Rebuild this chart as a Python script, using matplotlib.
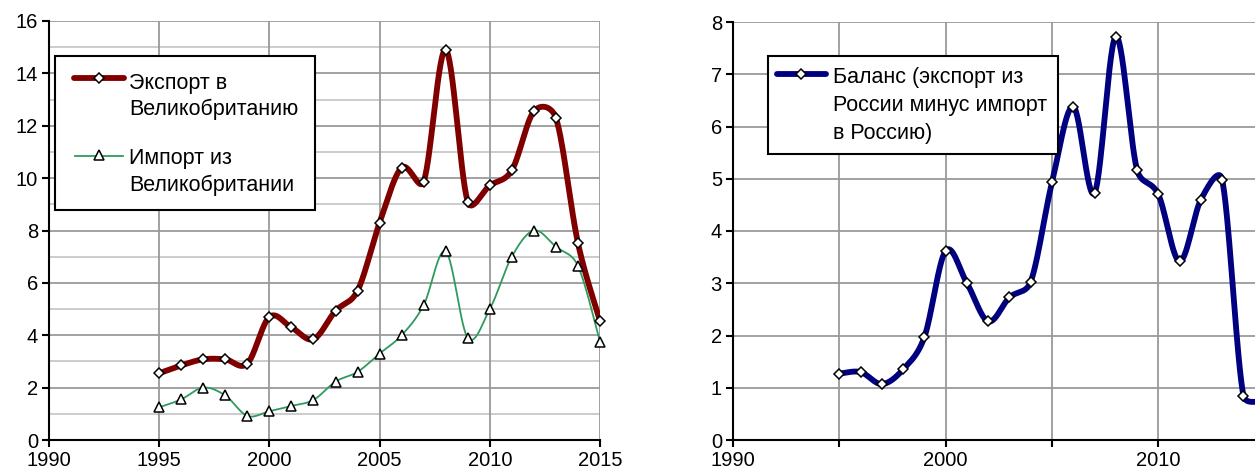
import numpy as np
import matplotlib
matplotlib.use("Agg")
import matplotlib.pyplot as plt
from matplotlib.lines import Line2D
from matplotlib.patches import Rectangle
from matplotlib.ticker import MultipleLocator, FixedLocator

plt.rcParams['font.family'] = ['Liberation Sans', 'DejaVu Sans']

years = list(range(1995, 2016))
export_uk = [2.55, 2.85, 3.08, 3.08, 2.92, 4.70, 4.30, 3.85, 4.93, 5.70, 8.30,
             10.40, 9.87, 14.90, 9.10, 9.72, 10.30, 12.55, 12.30, 7.52, 4.55]
import_uk = [1.25, 1.55, 2.00, 1.70, 0.92, 1.10, 1.30, 1.53, 2.23, 2.60, 3.30,
             4.00, 5.15, 7.20, 3.90, 5.00, 7.00, 8.00, 7.38, 6.65, 3.75]
balance = [1.27, 1.30, 1.07, 1.35, 1.97, 3.62, 3.00, 2.27, 2.73, 3.03, 4.93,
           6.38, 4.73, 7.72, 5.17, 4.70, 3.42, 4.60, 4.98, 0.85, 0.75]

label_export = ["Экспорт в", "Великобританию"]
label_import = ["Импорт из", "Великобритании"]
label_balance = ["Баланс (экспорт из", "России минус импорт", "в Россию)"]

W, H = 1255, 474


def smooth(x, y, sx, sy, n=30):
    """Excel-style smoothed Bezier path through the points (computed in pixel space)."""
    P = np.column_stack([np.asarray(x, float) * sx, np.asarray(y, float) * sy])
    P = np.vstack([P[0], P, P[-1]])
    out = []
    t = np.linspace(0, 1, n, endpoint=False)[:, None]
    for i in range(1, len(P) - 2):
        p0, p1, p2, p3 = P[i - 1], P[i], P[i + 1], P[i + 2]
        d12 = np.hypot(*(p2 - p1))
        v1 = (p2 - p0) / 6.0
        v2 = (p3 - p1) / 6.0
        l1, l2 = np.hypot(*v1), np.hypot(*v2)
        if l1 > d12 / 2 and l1 > 0:
            v1 = v1 * (d12 / 2) / l1
        if l2 > d12 / 2 and l2 > 0:
            v2 = v2 * (d12 / 2) / l2
        c1 = p1 + v1
        c2 = p2 - v2
        b = ((1 - t) ** 3) * p1 + 3 * ((1 - t) ** 2) * t * c1 + 3 * (1 - t) * t ** 2 * c2 + t ** 3 * p2
        out.append(b)
    out.append(P[-2][None])
    S = np.vstack(out)
    return S[:, 0] / sx, S[:, 1] / sy


def fx(px):
    return px / W


def fy(py):
    return 1 - py / H


FS = 14.5
LFS = 15.5
fig = plt.figure(figsize=(12.55, 4.74), dpi=100)

# ---------------- left chart ----------------
L = dict(x0=49, x1=600, y0=440, y1=21)
ax1 = fig.add_axes([fx(L['x0']), fy(L['y0']), (L['x1'] - L['x0']) / W, (L['y0'] - L['y1']) / H])
ax1.set_xlim(1990, 2015)
ax1.set_ylim(0, 16)
for v in range(1, 16, 2):
    ax1.axhline(v, color='#c8c8c8', lw=1.3, zorder=0)
for v in range(2, 17, 2):
    ax1.axhline(v, color='#9a9a9a', lw=1.3, zorder=0)
for v in range(1995, 2016, 5):
    ax1.axvline(v, color='#9a9a9a', lw=1.3, zorder=0)

pxx = (L['x1'] - L['x0']) / 25.0
pxy = (L['y0'] - L['y1']) / 16.0
sx_, sy_ = smooth(years, export_uk, pxx, pxy)
ax1.plot(sx_, sy_, color='#800000', lw=4.2, solid_capstyle='round', zorder=3)
ax1.plot(years, export_uk, ls='none', marker='D', ms=5, mfc='white', mec='black', mew=1.1, zorder=4, clip_on=False)
sx_, sy_ = smooth(years, import_uk, pxx, pxy)
ax1.plot(sx_, sy_, color='#2e9a5e', lw=1.3, zorder=3)
ax1.plot(years, import_uk, ls='none', marker='^', ms=7, mfc='white', mec='black', mew=1.1, zorder=4, clip_on=False)

ax1.xaxis.set_major_locator(MultipleLocator(5))
ax1.yaxis.set_major_locator(MultipleLocator(2))
for s in ['top', 'right']:
    ax1.spines[s].set_visible(False)
for s in ['left', 'bottom']:
    ax1.spines[s].set_color('black')
    ax1.spines[s].set_linewidth(1.5)
ax1.tick_params(axis='both', direction='out', length=5, width=1.5, labelsize=FS, colors='black', pad=3)

# left legend (drawn by hand to match layout)
fig.add_artist(Rectangle((fx(55), fy(210)), (315 - 55) / W, (210 - 56) / H,
                         transform=fig.transFigure, facecolor='white', edgecolor='black',
                         lw=1.5, zorder=5))
fig.add_artist(Line2D([fx(74), fx(124)], [fy(78), fy(78)], transform=fig.transFigure,
                      color='#800000', lw=4.2, solid_capstyle='round', zorder=6))
fig.add_artist(Line2D([fx(99)], [fy(78)], transform=fig.transFigure, ls='none',
                      marker='D', ms=5, mfc='white', mec='black', mew=1.1, zorder=7))
fig.add_artist(Line2D([fx(75), fx(123)], [fy(156), fy(156)], transform=fig.transFigure,
                      color='#2e9a5e', lw=1.3, zorder=6))
fig.add_artist(Line2D([fx(99)], [fy(155)], transform=fig.transFigure, ls='none',
                      marker='^', ms=7, mfc='white', mec='black', mew=1.1, zorder=7))
for txt, base in zip(label_export + label_import, [89, 115, 164, 191]):
    fig.text(fx(129), fy(base), txt, fontsize=LFS, ha='left', va='baseline', zorder=8)

# ---------------- right chart ----------------
R = dict(x0=733, x1=1371, y0=440, y1=22)
ax2 = fig.add_axes([fx(R['x0']), fy(R['y0']), (R['x1'] - R['x0']) / W, (R['y0'] - R['y1']) / H])
ax2.set_xlim(1990, 2020)
ax2.set_ylim(0, 8)
for v in range(1, 9):
    ax2.axhline(v, color='#9a9a9a', lw=1.3, zorder=0)
for v in range(1995, 2021, 5):
    ax2.axvline(v, color='#9a9a9a', lw=1.3, zorder=0)

pxx2 = (R['x1'] - R['x0']) / 30.0
pxy2 = (R['y0'] - R['y1']) / 8.0
sx_, sy_ = smooth(years, balance, pxx2, pxy2)
ax2.plot(sx_, sy_, color='#000080', lw=4.2, solid_capstyle='round', zorder=3)
ax2.plot(years, balance, ls='none', marker='D', ms=5, mfc='white', mec='black', mew=1.1, zorder=4)

ax2.xaxis.set_major_locator(FixedLocator([1990, 2000, 2010]))
ax2.xaxis.set_minor_locator(FixedLocator([1995, 2005, 2015]))
ax2.yaxis.set_major_locator(MultipleLocator(1))
for s in ['top', 'right']:
    ax2.spines[s].set_visible(False)
for s in ['left', 'bottom']:
    ax2.spines[s].set_color('black')
    ax2.spines[s].set_linewidth(1.5)
ax2.tick_params(axis='both', which='both', direction='out', length=5, width=1.5, labelsize=FS, colors='black', pad=3)

# right legend
fig.add_artist(Rectangle((fx(768), fy(154)), (1058 - 768) / W, (154 - 56) / H,
                         transform=fig.transFigure, facecolor='white', edgecolor='black',
                         lw=1.5, zorder=5))
fig.add_artist(Line2D([fx(777), fx(826)], [fy(74), fy(74)], transform=fig.transFigure,
                      color='#000080', lw=4.2, solid_capstyle='round', zorder=6))
fig.add_artist(Line2D([fx(801)], [fy(74)], transform=fig.transFigure, ls='none',
                      marker='D', ms=5, mfc='white', mec='black', mew=1.1, zorder=7))
for txt, base in zip(label_balance, [83, 111, 139]):
    fig.text(fx(833), fy(base), txt, fontsize=LFS, ha='left', va='baseline', zorder=8)

fig.savefig('out.png', dpi=100)
